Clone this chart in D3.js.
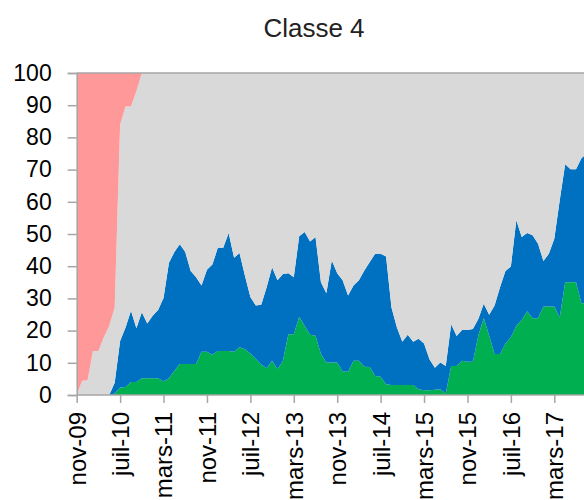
<html>
<head>
<meta charset="utf-8">
<title>Classe 4</title>
<script src="https://d3js.org/d3.v7.min.js"></script>
<style>
    body { margin: 0; padding: 0; background: #fff; }
    text { font-family: "Liberation Sans", Arial, sans-serif; }
</style>
</head>
<body>
<script>
// month names as Excel (fr) prints them
var monthNames = ["janv", "févr", "mars", "avr", "mai", "juin", "juil", "août", "sept", "oct", "nov", "déc"];
var startYear = 2009, startMonth = 10; // nov-09
var tickEvery = 8;

// series values, one per month from nov-09
var green = [0, 0, 0, 0, 0, 0, 0, 0.5, 2.3, 2.5, 4, 4, 5.2, 5.2, 5.2, 5.2, 4.2, 5.2, 7.5, 9.6,
    9.6, 9.6, 9.6, 13.4, 13.4, 12.5, 13.7, 13.7, 13.7, 13.4, 14.8, 14.2, 12.9, 11.2, 9.5, 8.3, 10.6, 8, 10.6, 18.9,
    18.9, 24.3, 21.5, 18.7, 18.4, 12.7, 10.1, 10.1, 10.1, 7.3, 7.2, 10.6, 10.6, 8.8, 8.7, 5.9, 5.7, 3.3, 3.1, 3.1,
    3.1, 3.1, 3.1, 1.8, 1.5, 1.5, 1.6, 1.8, 0.5, 9, 9, 10.6, 10.3, 10.3, 18.4, 23.9, 18.4, 12.7, 12.7, 16,
    17.9, 21.5, 23.3, 26, 23.8, 23.8, 27.5, 27.5, 27.5, 24.1, 35, 35, 35, 28.5, 28.5];
var blue = [0, 0, 0, 0, 0, 0, 0, 3.3, 14.5, 18.5, 22.2, 16.7, 20.5, 17, 19.4, 21.2, 25.9, 35.9, 36.9, 37.2,
    34.8, 28.9, 27, 20.6, 25.5, 28, 32, 32, 36.6, 29.2, 29.3, 22.8, 17.5, 16.6, 18.5, 25.2, 29.1, 27.6, 27, 18.9,
    17.7, 25, 29.1, 29, 30.7, 22.3, 21.5, 31.7, 27.7, 28.3, 23.7, 23.4, 25, 29.9, 32.6, 38, 38.2, 39.7, 24.1, 17.9,
    13.4, 15.6, 13.4, 15.7, 14.5, 9.6, 6.9, 8.3, 8.5, 13, 9.3, 9.6, 9.9, 10.2, 5.2, 4.4, 6.5, 15.1, 20.8, 22.5,
    22, 32.8, 25.8, 24.3, 25.8, 23.2, 14.1, 16.4, 21, 36.4, 36.7, 35.1, 35.1, 45, 46.5];
var gray = [0, 4.4, 4.6, 13.7, 13.7, 17.9, 21.5, 23.4, 67.1, 68.6, 63.4, 73.6, 74.3, 77.8, 75.4, 73.6, 69.9, 58.9, 55.6, 53.2,
    55.6, 61.5, 63.4, 66, 61.1, 59.5, 54.3, 54.3, 49.7, 57.4, 55.9, 63, 69.6, 72.2, 72, 66.5, 60.3, 64.4, 62.4, 62.2,
    63.4, 50.7, 49.4, 52.3, 50.9, 65, 68.4, 58.2, 62.2, 64.4, 69.1, 66, 64.4, 61.3, 58.7, 56.1, 56.1, 57, 72.8, 79,
    83.5, 81.3, 83.5, 82.5, 84, 88.9, 91.5, 89.9, 91, 78, 81.7, 79.8, 79.8, 79.5, 76.4, 71.7, 75.1, 72.2, 66.5, 61.5,
    60.1, 45.7, 50.9, 49.7, 50.4, 53, 58.4, 56.1, 51.5, 39.5, 28.3, 29.9, 29.9, 26.5, 25];
var pink = [100, 95.6, 95.4, 86.3, 86.3, 82.1, 78.5, 72.8, 16.1, 10.4, 10.4, 5.7, 0, 0, 0, 0, 0, 0, 0, 0,
    0, 0, 0, 0, 0, 0, 0, 0, 0, 0, 0, 0, 0, 0, 0, 0, 0, 0, 0, 0,
    0, 0, 0, 0, 0, 0, 0, 0, 0, 0, 0, 0, 0, 0, 0, 0, 0, 0, 0, 0,
    0, 0, 0, 0, 0, 0, 0, 0, 0, 0, 0, 0, 0, 0, 0, 0, 0, 0, 0, 0,
    0, 0, 0, 0, 0, 0, 0, 0, 0, 0, 0, 0, 0, 0, 0];
var yTicks = [0, 10, 20, 30, 40, 50, 60, 70, 80, 90, 100];

var keys = ["green", "blue", "gray", "pink"];
var colors = {green: "#00B050", blue: "#0070C0", gray: "#D9D9D9", pink: "#FF9999"};

var w = 584, h = 500;

// table for the stack
var rows = green.map(function(d, i) {
    return {i: i, green: green[i], blue: blue[i], gray: gray[i], pink: pink[i]};
});

function label(i) {
    var m = (startMonth + i) % 12;
    var yr = startYear + Math.floor((startMonth + i) / 12);
    return monthNames[m] + "-" + String(yr).slice(2);
}

var x = d3.scaleLinear().domain([0, 88]).range([76.7, 554.3]);
var y = d3.scaleLinear().domain([0, 100]).range([395, 73]);

var svg = d3.select("body").append("svg")
    .attr("width", w)
    .attr("height", h);

svg.append("text")
    .attr("x", 314)
    .attr("y", 37)
    .attr("text-anchor", "middle")
    .attr("font-size", 26)
    .attr("fill", "#222")
    .text("Classe 4");

svg.append("clipPath").attr("id", "plot")
    .append("rect")
    .attr("x", x(0)).attr("y", y(100))
    .attr("width", w - x(0)).attr("height", y(0) - y(100));

var stack = d3.stack().keys(keys);
var series = stack(rows);

var area = d3.area()
    .x(function(d) { return x(d.data.i); })
    .y0(function(d) { return y(d[0]); })
    .y1(function(d) { return y(d[1]); });

svg.append("g")
    .attr("clip-path", "url(#plot)")
    .selectAll("path")
    .data(series)
    .enter().append("path")
    .attr("d", area)
    .attr("fill", function(d) { return colors[d.key]; });

// top gridline at 100
svg.append("line")
    .attr("x1", x(0)).attr("x2", w)
    .attr("y1", y(100)).attr("y2", y(100))
    .attr("stroke", "#A6A6A6").attr("stroke-width", 1.3);

// y axis
var yAxis = svg.append("g")
    .attr("transform", "translate(" + x(0) + ",0)")
    .call(d3.axisLeft(y).tickValues(yTicks).tickSize(9).tickPadding(16));
yAxis.select(".domain").attr("stroke", "#A6A6A6").attr("stroke-width", 1.5);
yAxis.selectAll(".tick line").attr("stroke", "#A6A6A6").attr("stroke-width", 1.5);
yAxis.selectAll(".tick text")
    .attr("font-size", 23)
    .attr("font-family", "Liberation Sans, Arial, sans-serif")
    .attr("fill", "#000");

// x axis
var xTickVals = d3.range(0, green.length, tickEvery);
var xAxis = svg.append("g")
    .attr("transform", "translate(0," + y(0) + ")")
    .call(d3.axisBottom(x).tickValues(xTickVals).tickSize(8).tickFormat(label));
xAxis.select(".domain").attr("stroke", "#A6A6A6").attr("stroke-width", 1.5)
    .attr("d", "M" + x(0) + ",0H" + w);
xAxis.selectAll(".tick line").attr("stroke", "#A6A6A6").attr("stroke-width", 1.5);
xAxis.selectAll(".tick text")
    .attr("font-size", 24)
    .attr("font-family", "Liberation Sans, Arial, sans-serif")
    .attr("fill", "#000")
    .attr("transform", "rotate(-90)")
    .attr("text-anchor", "end")
    .attr("x", -17)
    .attr("y", 0)
    .attr("dy", "0.35em");
</script>
</body>
</html>
